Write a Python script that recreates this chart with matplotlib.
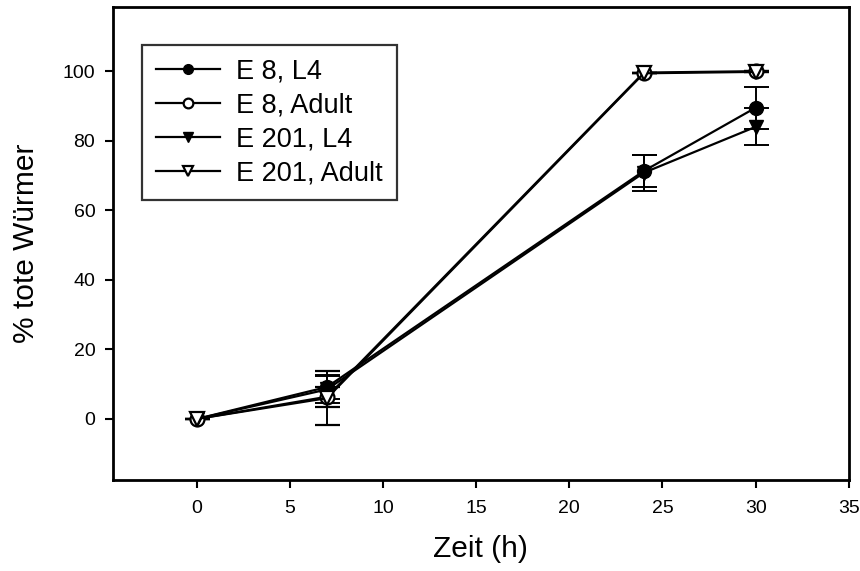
import numpy as np
import matplotlib.pyplot as plt

plt.rcParams['font.family'] = ['Liberation Sans', 'DejaVu Sans']

zeit = [0, 7, 24, 30]

# mortality in % per group, with standard deviation
e8_l4 = [0, 9.2, 71.3, 89.5]
e8_l4_err = [0, 3.4, 4.6, 6]
e8_adult = [0, 6.4, 99.6, 100]
e8_adult_err = [0, 2.9, 0, 0]
e201_l4 = [0, 8.5, 70.8, 84]
e201_l4_err = [0, 4, 5.2, 5.3]
e201_adult = [0, 6.0, 99.4, 99.8]
e201_adult_err = [0, 7.7, 0, 0]

fig = plt.figure(figsize=(8.6, 5.71), dpi=100)
ax = fig.add_axes([0.131, 0.159, 0.856, 0.829])

kw = dict(color='black', lw=1.6, capsize=9, elinewidth=1.4, capthick=1.4, ms=10)
ax.errorbar(zeit, e8_l4, yerr=e8_l4_err, marker='o', mfc='black', mec='black', label='E 8, L4', **kw)
ax.errorbar(zeit, e8_adult, yerr=e8_adult_err, marker='o', mfc='white', mec='black', mew=1.6, label='E 8, Adult', **kw)
ax.errorbar(zeit, e201_l4, yerr=e201_l4_err, marker='v', mfc='black', mec='black', label='E 201, L4', **kw)
ax.errorbar(zeit, e201_adult, yerr=e201_adult_err, marker='v', mfc='white', mec='black', mew=1.6, label='E 201, Adult', **kw)

ax.set_xlim(-4.5, 35)
ax.set_ylim(-17.6, 118.5)
ax.set_xticks(np.arange(0, 36, 5))
ax.set_yticks(np.arange(0, 101, 20))
ax.tick_params(axis='x', direction='out', length=5.5, width=1.5, labelsize=14, pad=9, top=False)
ax.tick_params(axis='y', direction='out', length=5.5, width=1.5, labelsize=14, pad=7, right=False)
for s in ax.spines.values():
    s.set_linewidth(2)

ax.set_xlabel('Zeit (h)', fontsize=21.5, labelpad=13)
ax.set_ylabel('% tote Würmer', fontsize=21.5, labelpad=16)

handles, labels = ax.get_legend_handles_labels()
handles = [h[0] for h in handles]
leg = ax.legend(handles, labels, loc='upper left', bbox_to_anchor=(0.04, 0.919),
                borderaxespad=0, fontsize=19.5, frameon=True, fancybox=False,
                edgecolor='black', markerscale=0.7, handlelength=2.36,
                handletextpad=0.62, labelspacing=0.29, borderpad=0.5)
leg.get_frame().set_linewidth(1.6)

fig.savefig('out.png', dpi=100)
